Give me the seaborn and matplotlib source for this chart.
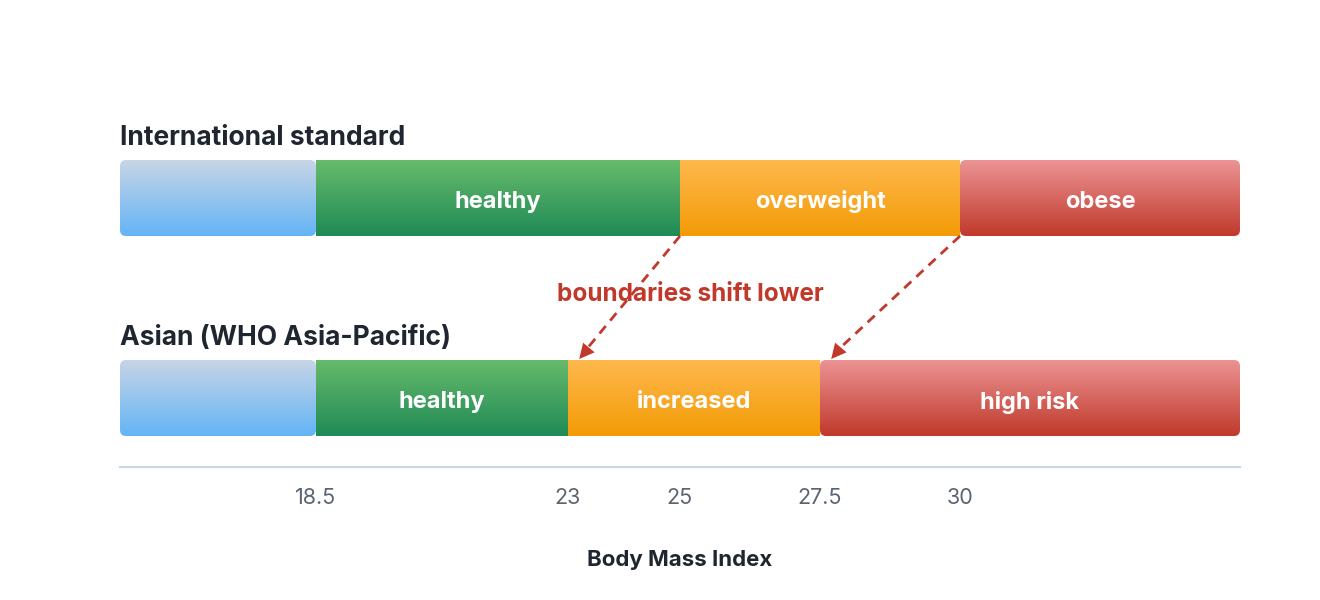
import numpy as np
import matplotlib
matplotlib.use("Agg")
import matplotlib.pyplot as plt
from matplotlib.colors import LinearSegmentedColormap
from matplotlib.patches import FancyBboxPatch
import seaborn as sns

# Datos
intl_bounds = [15, 18.5, 25, 30, 35]
intl_labels = ["", "healthy", "overweight", "obese"]
asian_bounds = [15, 18.5, 23, 27.5, 35]
asian_labels = ["", "healthy", "increased", "high risk"]
tick_values = [18.5, 23, 25, 27.5, 30]
tick_labels = ["18.5", "23", "25", "27.5", "30"]
shift_from = [25, 30]
shift_to = [23, 27.5]

# Colores (arriba, abajo) de cada franja
band_colors = [("#c8d5e6", "#63b4f5"), ("#67bb6b", "#1f8a56"),
               ("#ffb84e", "#f29b05"), ("#ec9494", "#c0392b")]
rounded = [True, False, False, True]

sns.set_theme(style="white")
plt.rcParams['font.family'] = ['Inter', 'DejaVu Sans']

fig = plt.figure(figsize=(13.2, 6), dpi=100)
# eje en coordenadas de pixel verticales: y=160 arriba, y=467 linea base
ax = fig.add_axes([120 / 1320, (600 - 467) / 600, 1120 / 1320, (467 - 160) / 600])
ax.set_xlim(15, 35)
ax.set_ylim(467, 160)

px_per_x = 1120 / 20
radius = 6 / px_per_x
grad = np.linspace(0, 1, 256).reshape(-1, 1)


def draw_row(bounds, labels, y_top, title):
    h = 76
    for i in range(len(labels)):
        x0, x1 = bounds[i], bounds[i + 1]
        r = radius if rounded[i] else 0.0001
        patch = FancyBboxPatch((x0, y_top), x1 - x0, h,
                               boxstyle=f"round,pad=0,rounding_size={r}",
                               mutation_aspect=px_per_x,
                               facecolor="none", edgecolor="none")
        ax.add_patch(patch)
        cmap = LinearSegmentedColormap.from_list("b%d" % i, band_colors[i])
        im = ax.imshow(grad, cmap=cmap, aspect="auto",
                       extent=(x0, x1, y_top + h, y_top), zorder=1)
        im.set_clip_path(patch)
        if labels[i]:
            ax.text((x0 + x1) / 2, y_top + h / 2 + 4, labels[i], color="white",
                    fontsize=17, fontweight="bold", ha="center", va="center", zorder=3)
    ax.text(15, y_top - 22, title, fontsize=19, fontweight="bold", color="#1f2630",
            ha="left", va="center", clip_on=False)


draw_row(intl_bounds, intl_labels, 160, "International standard")
draw_row(asian_bounds, asian_labels, 360, "Asian (WHO Asia-Pacific)")

# Flechas
red = "#c0392b"
for a, b in zip(shift_from, shift_to):
    tip = (b + 0.2, 359)
    ax.plot([a, tip[0] + 0.12], [236, tip[1] - 9], color=red, lw=2,
            linestyle=(0, (3.5, 2.5)), zorder=4, clip_on=False)
    ax.annotate("", xy=tip, xytext=(tip[0] + 0.15, tip[1] - 10),
                arrowprops=dict(arrowstyle="-|>,head_length=0.9,head_width=0.45",
                                color=red, lw=0, shrinkA=0, shrinkB=0), zorder=5)

ax.text(25.18, 295, "boundaries shift lower", color=red, fontsize=17.5,
        fontweight="bold", ha="center", va="center")

# Ejes
for s in ["top", "left", "right"]:
    ax.spines[s].set_visible(False)
ax.spines["bottom"].set_color("#c9d7e5")
ax.spines["bottom"].set_linewidth(1.5)
ax.set_yticks([])
ax.set_xticks(tick_values)
ax.set_xticklabels(tick_labels)
ax.tick_params(axis="x", length=0, pad=15, labelsize=15.5, labelcolor="#5b6472")
ax.set_xlabel("Body Mass Index", fontsize=16, fontweight="bold", color="#1f2630",
              labelpad=30)
ax.grid(False)

fig.savefig("out.png", dpi=100)
